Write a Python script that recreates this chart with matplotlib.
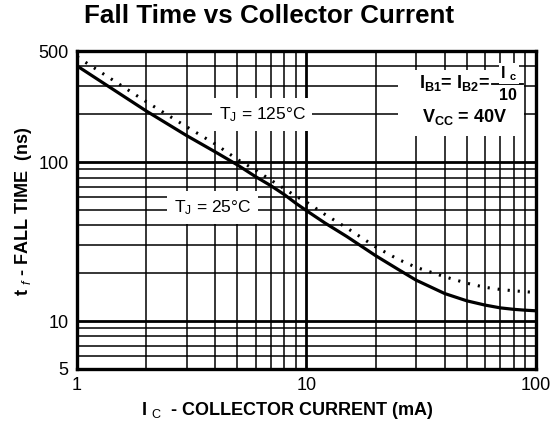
import numpy as np
import matplotlib
matplotlib.use("Agg")
import matplotlib.pyplot as plt
from matplotlib.ticker import LogLocator, FixedLocator, NullFormatter
from matplotlib.patches import Rectangle
from matplotlib.lines import Line2D

plt.rcParams['font.family'] = ['Liberation Sans', 'DejaVu Sans']
plt.rcParams['mathtext.fontset'] = 'custom'
plt.rcParams['mathtext.rm'] = 'Liberation Sans'
plt.rcParams['mathtext.it'] = 'Liberation Sans:italic'
plt.rcParams['mathtext.bf'] = 'Liberation Sans:bold'

# collector current (mA)
ic = [1, 2, 3, 4, 5, 6, 7, 8, 9, 10, 12, 15, 20, 25, 30, 40, 50, 60, 70, 80, 90, 100]
# fall time (ns)
tf_25c = [403, 210, 147, 116, 96, 81, 71, 62.5, 55, 49.5, 41.5, 34.0, 25.8, 21.2, 18.1,
          14.9, 13.4, 12.6, 12.1, 11.85, 11.7, 11.6]
tf_125c = [460, 240, 167, 130, 104, 89, 77, 68, 61, 56, 47, 38.5, 29.3, 24.5, 21.8,
           19.0, 17.3, 16.3, 15.8, 15.5, 15.3, 15.1]

xticks = [1, 10, 100]
yticks = [5, 10, 100, 500]

fig = plt.figure(figsize=(5.56, 4.25), dpi=100)
ax = fig.add_axes([0.1385, 0.132, 0.8255, 0.748])

ax.set_xscale('log')
ax.set_yscale('log')
ax.set_xlim(1, 100)
ax.set_ylim(5, 500)

# grid: thin lines on every sub-decade, heavy lines on decades
ax.xaxis.set_major_locator(FixedLocator(xticks))
ax.yaxis.set_major_locator(FixedLocator(yticks))
ax.xaxis.set_minor_locator(LogLocator(base=10, subs=np.arange(2, 10)))
ax.yaxis.set_minor_locator(LogLocator(base=10, subs=np.arange(2, 10)))
ax.xaxis.set_minor_formatter(NullFormatter())
ax.yaxis.set_minor_formatter(NullFormatter())
ax.set_xticklabels([str(v) for v in xticks])
ax.set_yticklabels([str(v) for v in yticks])
ax.grid(which='minor', color='black', lw=1.1)
ax.grid(which='major', color='black', lw=2.0)
ax.set_axisbelow(True)
ax.tick_params(which='both', length=0, labelsize=13, pad=6)

for s in ax.spines.values():
    s.set_linewidth(2.4)
    s.set_zorder(5)

ax.plot(ic, tf_25c, color='black', lw=2.3, zorder=4, solid_capstyle='butt')
ax.plot(ic, tf_125c, color='black', lw=2.2, zorder=4,
        linestyle=(0, (0.7, 2.6)), dash_capstyle='butt')

ax.text(6.4, 200, r'T$_{\rm J}$ = 125°C', fontsize=12.5, ha='center', va='center',
        bbox=dict(facecolor='white', edgecolor='none', pad=5), zorder=3)
ax.text(3.9, 52, r'T$_{\rm J}$ = 25°C', fontsize=12.5, ha='center', va='center',
        bbox=dict(facecolor='white', edgecolor='none', pad=5), zorder=3)

# conditions block in the upper right corner
ax.add_patch(Rectangle((0.70, 0.733), 0.274, 0.207, transform=ax.transAxes,
                       facecolor='white', edgecolor='none', zorder=3))
ax.text(0.8998, 0.8836, r'I$_{\mathbf{B1}}$= I$_{\mathbf{B2}}$=', transform=ax.transAxes,
        fontsize=13, fontweight='bold', ha='right', va='baseline', zorder=4)
ax.add_line(Line2D([0.904, 0.972], [0.8972, 0.8972], transform=ax.transAxes,
                   color='black', lw=1.3, zorder=4))
ax.text(0.941, 0.915, r'I $_{\mathbf{c}}$', transform=ax.transAxes,
        fontsize=11.5, fontweight='bold', ha='center', va='baseline', zorder=4,
        bbox=dict(facecolor='white', edgecolor='none', pad=1))
ax.text(0.938, 0.846, '10', transform=ax.transAxes,
        fontsize=11.5, fontweight='bold', ha='center', va='baseline', zorder=4)
ax.text(0.845, 0.777, r'V$_{\mathbf{CC}}$ = 40V', transform=ax.transAxes,
        fontsize=13, fontweight='bold', ha='center', va='baseline', zorder=4)

fig.text(0.484, 0.962, 'Fall Time vs Collector Current', fontsize=18.7,
         fontweight='bold', ha='center', va='center')
fig.text(0.516, 0.033, r'I $_{\rm C}$  - COLLECTOR CURRENT (mA)', fontsize=13,
         fontweight='bold', ha='center', va='center')
fig.text(0.043, 0.503, r't $_{f}$ - FALL TIME  (ns)', fontsize=13,
         fontweight='bold', ha='center', va='center', rotation=90)

fig.savefig('out.png', dpi=100)
